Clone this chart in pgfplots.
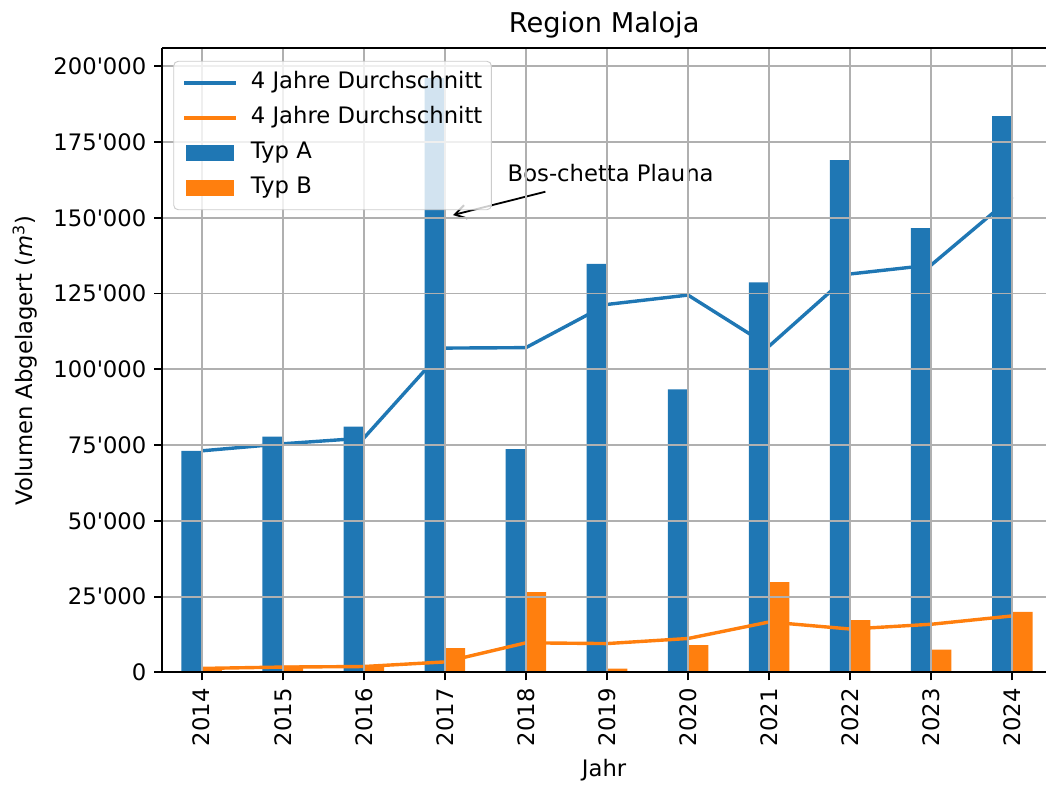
\documentclass[border=0pt]{standalone}
\usepackage{pgfplots}
\usepackage{pgfplotstable}
\pgfplotsset{compat=1.18}
\usepackage{fontspec}
\setmainfont{DejaVu Sans}
\usetikzlibrary{arrows.meta}
\definecolor{tabblue}{RGB}{31,119,180}
\definecolor{taborange}{RGB}{255,127,14}
\definecolor{gridgray}{RGB}{176,176,176}
\definecolor{legframe}{RGB}{204,204,204}

\pgfplotsset{
  mylineleg/.style={legend image code/.code={\draw[##1] (0pt,0pt)--(22.5pt,0pt);}},
  mybarleg/.style={legend image code/.code={\fill[##1, sharp corners, fill opacity=1] (0.8pt,-3.65pt) rectangle (21.7pt,3.65pt);}},
}

\pgfplotstableread{
year A      B     avgA   avgB
2014 73100  1300  73100  1300
2015 77750  2200  75425  1750
2016 81050  2300  77300  1930
2017 196100 8000  107000 3450
2018 73700  26500 107150 9750
2019 134750 1200  121400 9500
2020 93400  9000  124490 11175
2021 128700 29800 107640 16625
2022 169000 17200 131460 14300
2023 146600 7500  134425 15875
2024 183500 20000 156950 18625
}\data

\begin{document}
\begin{tikzpicture}
\begin{axis}[
  name=ax,
  scale only axis,
  width=389.3pt, height=274.9pt,
  xmin=2013.514, xmax=2024.416,
  ymin=0, ymax=205905,
  scaled y ticks=false, scaled x ticks=false,
  axis x line*=bottom, axis y line*=left,
  axis line style={-, line width=0.8pt, black},
  axis on top,
  grid=major,
  major grid style={gridgray, line width=0.8pt},
  tick align=outside,
  major tick length=3.5pt,
  tick style={black, line width=0.8pt},
  /pgf/number format/assume math mode=true,
  xtick={2014,2015,2016,2017,2018,2019,2020,2021,2022,2023,2024},
  xticklabels={2014,2015,2016,2017,2018,2019,2020,2021,2022,2023,2024},
  ytick={0,25000,50000,75000,100000,125000,150000,175000,200000},
  yticklabels={0,25\textquotesingle000,50\textquotesingle000,75\textquotesingle000,100\textquotesingle000,125\textquotesingle000,150\textquotesingle000,175\textquotesingle000,200\textquotesingle000},
  tick label style={font=\fontsize{10}{12}\selectfont},
  xticklabel style={rotate=90, anchor=east},
  xlabel={Jahr},
  ylabel={Volumen Abgelagert (\textit{m}\textsuperscript{3})},
  label style={font=\fontsize{10}{12}\selectfont},
  xlabel style={at={(axis description cs:0.5,-0.157)}, anchor=center},
  ylabel style={at={(axis description cs:-0.1554,0.5)}, anchor=center},
  title={Region Maloja},
  title style={at={(axis description cs:0.5,1.0374)}, anchor=center, yshift=-6pt, font=\fontsize{12}{14}\selectfont},
  legend cell align=left,
  legend style={at={(axis description cs:0.0124,0.980)}, anchor=north west,
    draw=legframe, fill=white, fill opacity=0.8, text opacity=1, draw opacity=1,
    rounded corners=2pt, font=\fontsize{10}{12}\selectfont,
    inner xsep=4pt, inner ysep=4.6pt, row sep=5.4pt,
    nodes={inner sep=0pt, text height=7.6pt, text depth=2.4pt},
    /tikz/every odd column/.append style={column sep=6pt}},
]
\addlegendimage{mylineleg, tabblue, line width=1.5pt}
\addlegendentry{4 Jahre Durchschnitt}
\addlegendimage{mylineleg, taborange, line width=1.5pt}
\addlegendentry{4 Jahre Durchschnitt}
\addlegendimage{mybarleg, fill=tabblue, draw=none}
\addlegendentry{Typ A}
\addlegendimage{mybarleg, fill=taborange, draw=none}
\addlegendentry{Typ B}

\addplot[ybar, bar width=0.25, bar shift=-0.125, fill=tabblue, draw=none, forget plot] table[x=year, y=A] {\data};
\addplot[ybar, bar width=0.25, bar shift=0.125, fill=taborange, draw=none, forget plot] table[x=year, y=B] {\data};
\addplot[tabblue, line width=1.5pt, mark=none, forget plot] table[x=year, y=avgA] {\data};
\addplot[taborange, line width=1.5pt, mark=none, forget plot] table[x=year, y=avgB] {\data};

\draw[-{Straight Barb[length=5pt, width=6pt]}, line width=0.8pt] (axis cs:2018.24,158600) -- (axis cs:2017.1,150900);
\node[anchor=base west, font=\fontsize{10}{12}\selectfont, inner sep=0pt] at (axis cs:2017.77,161900) {Bos-chetta Plauna};
\end{axis}
\draw[line width=0.8pt, black] (ax.north west) -- (ax.north east);
\pgfresetboundingbox
\path[use as bounding box] ([shift={(-71.5pt,-49.6pt)}]ax.south west) rectangle ([shift={(0pt,21.3pt)}]ax.north east);
\end{tikzpicture}
\end{document}
